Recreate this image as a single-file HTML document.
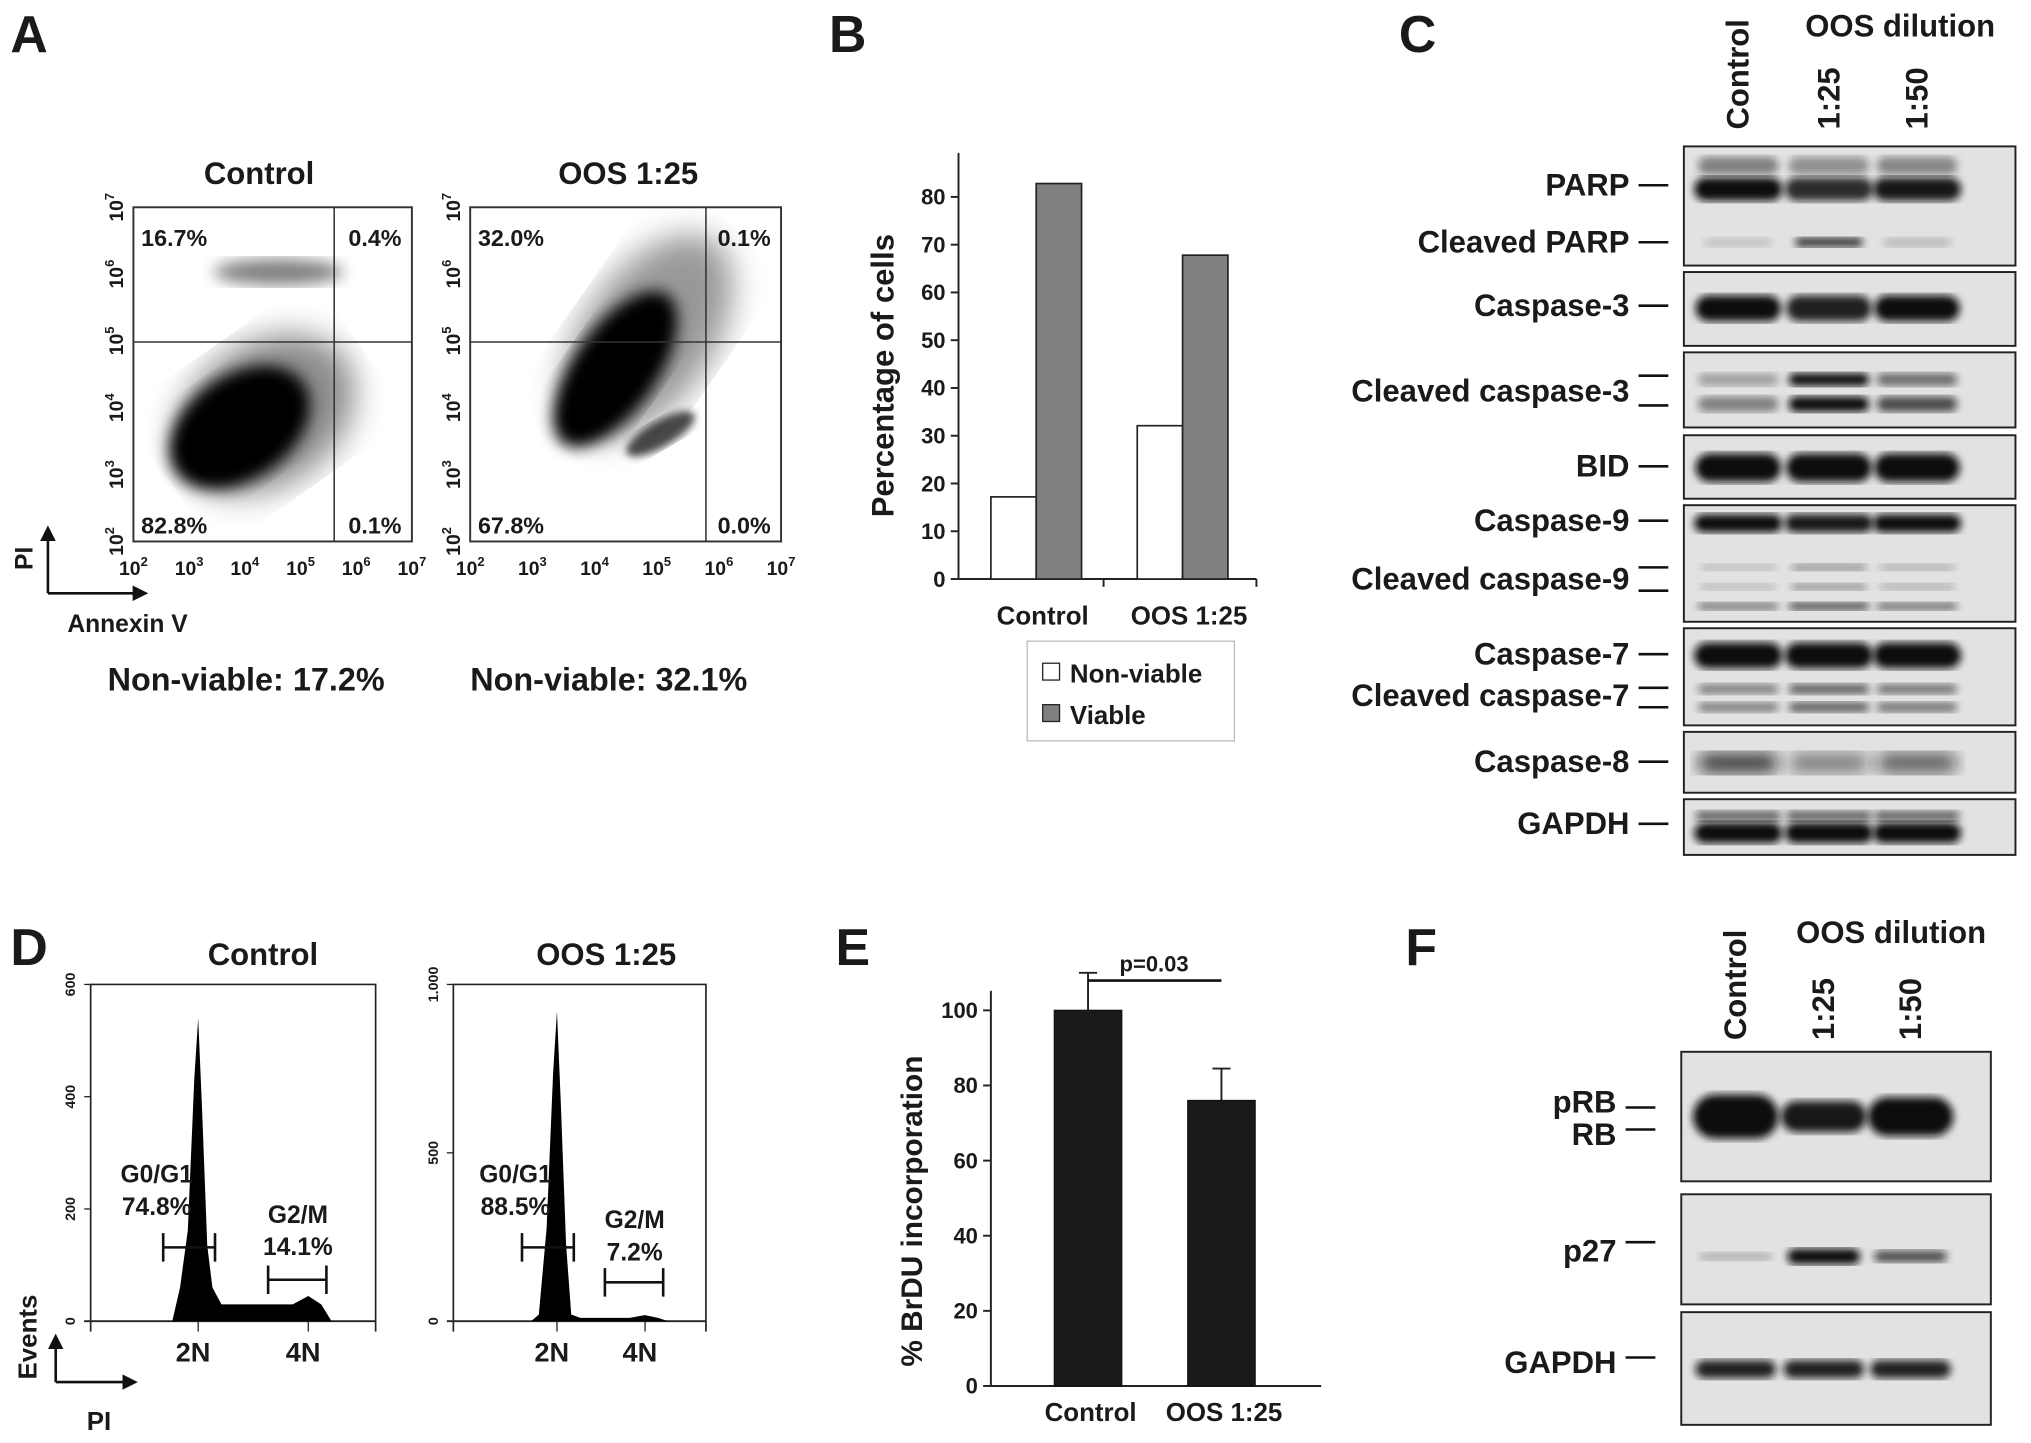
<!DOCTYPE html>
<html><head><meta charset="utf-8"><style>
html,body{margin:0;padding:0;background:#fff;}
svg{display:block;font-family:"Liberation Sans",Arial,sans-serif;}
text{font-weight:bold;fill:#1a1a1a;}
</style></head><body>
<svg id="fig" width="2031" height="1443" viewBox="0 0 1568 1114" xmlns="http://www.w3.org/2000/svg">
<defs>
<filter id="blur3"><feGaussianBlur stdDeviation="3"/></filter>
<filter id="blur6"><feGaussianBlur stdDeviation="6"/></filter>
<filter id="blur12"><feGaussianBlur stdDeviation="12"/></filter>
<marker id="arr" viewBox="0 0 10 10" refX="8" refY="5" markerWidth="6" markerHeight="6" orient="auto"><path d="M0,0L10,5L0,10z" fill="#111"/></marker>
</defs>

<text x="8" y="40" font-size="40">A</text>
<text x="640" y="40" font-size="40">B</text>
<text x="1080" y="40" font-size="40">C</text>
<text x="8" y="745" font-size="40">D</text>
<text x="645" y="745" font-size="40">E</text>
<text x="1085" y="745" font-size="40">F</text>

<g id="panelA"></g>
<g id="panelB"></g>
<g id="panelC"></g>
<g id="panelD"></g>
<g id="panelE"></g>
<g id="panelF"></g>
</svg>
<script>
const bCategories = ["Control", "OOS 1:25"];
const bNonViable = [17.2, 32.1];
const bViable = [82.8, 67.8];
const bTicks = [0,10,20,30,40,50,60,70,80];
const eCategories = ["Control", "OOS  1:25"];
const eValues = [100, 76];
const eErrors = [10, 8.5];
const eTicks = [0,20,40,60,80,100];
const aTitles = ["Control", "OOS 1:25"];
const aQuad = [["16.7%","0.4%","82.8%","0.1%"],["32.0%","0.1%","67.8%","0.0%"]];
const aNonViable = ["Non-viable: 17.2%","Non-viable: 32.1%"];
const aExps = ["2","3","4","5","6","7"];
const dTitles = ["Control","OOS 1:25"];
const dG1 = ["74.8%","88.5%"];
const dG2 = ["14.1%","7.2%"];
const dYTicks = [["0","200","400","600"],["0","500","1.000"]];
const dYMax = [600, 1000];
const dPeak = [540, 920];
const dPlateau = [30, 10];
const dG2Peak = [45, 18];
const cLanes = ["Control","1:25","1:50"];

const NS="http://www.w3.org/2000/svg";
function el(tag, attrs, parent, txt){
  const e=document.createElementNS(NS,tag);
  for(const k in attrs) e.setAttribute(k,attrs[k]);
  if(txt!==undefined) e.textContent=txt;
  parent.appendChild(e); return e;
}

// ===== Panel A =====
(function(){
  const g=document.getElementById('panelA');
  const boxes=[{x0:103,x1:318,vx:258,tx:200},{x0:363,x1:603,vx:545,tx:485}];
  const y0=160,y1=418,hy=264;
  boxes.forEach((b,i)=>{
    const t=el('text',{x:b.tx,y:142,'font-size':24,'text-anchor':'middle'},g,aTitles[i]);
    
    
    const cg=el('g',{},g);
    
    
    if(i===0){
      el('ellipse',{cx:185,cy:330,rx:60,ry:40,transform:'rotate(-35 185 330)',fill:'#000',filter:'url(#blur6)'},cg);
      el('ellipse',{cx:205,cy:320,rx:75,ry:55,transform:'rotate(-35 205 320)',fill:'#000',opacity:0.45,filter:'url(#blur12)'},cg);
      el('ellipse',{cx:215,cy:210,rx:50,ry:10,fill:'#000',opacity:0.5,filter:'url(#blur6)'},cg);
    } else {
      el('ellipse',{cx:475,cy:285,rx:70,ry:32,transform:'rotate(-55 475 285)',fill:'#000',filter:'url(#blur6)'},cg);
      el('ellipse',{cx:500,cy:260,rx:90,ry:50,transform:'rotate(-55 500 260)',fill:'#000',opacity:0.4,filter:'url(#blur12)'},cg);
      el('ellipse',{cx:510,cy:335,rx:30,ry:10,transform:'rotate(-30 510 335)',fill:'#000',opacity:0.7,filter:'url(#blur3)'},cg);
    }
    const r=el('rect',{x:b.x0,y:y0,width:b.x1-b.x0,height:y1-y0,fill:'none',stroke:'#333','stroke-width':1.5},g);
    
    
    el('line',{x1:b.vx,y1:y0,x2:b.vx,y2:y1,stroke:'#333','stroke-width':1.2},g);
    el('line',{x1:b.x0,y1:hy,x2:b.x1,y2:hy,stroke:'#333','stroke-width':1.2},g);
    const q=aQuad[i];
    [[b.x0+6,190,'start',q[0]],[b.x1-8,190,'end',q[1]],[b.x0+6,412,'start',q[2]],[b.x1-8,412,'end',q[3]]].forEach((p,k)=>{
      const qt=el('text',{x:p[0],y:p[1],'font-size':18,'text-anchor':p[2]},g,p[3]);
      
      
    });
    aExps.forEach((e,k)=>{
      const x=b.x0+(b.x1-b.x0)*k/5;
      const tx=el('text',{x:x,y:444,'font-size':15,'text-anchor':'middle','font-weight':'normal'},g);
      
      
      tx.innerHTML='10<tspan dy="-7" font-size="10">'+e+'</tspan>';
      const y=y1-(y1-y0)*k/5;
      const ty=el('text',{transform:`translate(${b.x0-8},${y}) rotate(-90)`,'font-size':15,'text-anchor':'middle','font-weight':'normal'},g);
      
      
      ty.innerHTML='10<tspan dy="-7" font-size="10">'+e+'</tspan>';
    });
    const nv=el('text',{x:[190,470][i],y:533,'font-size':25,'text-anchor':'middle'},g,aNonViable[i]);
    
    
  });
  el('polyline',{points:'37,458 37,408',stroke:'#111','stroke-width':2,fill:'none','marker-end':'url(#arr)'},g);
  el('polyline',{points:'37,458 112,458',stroke:'#111','stroke-width':2,fill:'none','marker-end':'url(#arr)'},g);
  const pi=el('text',{transform:'translate(25,440) rotate(-90)','font-size':19},g,'PI');
  
  
  const an=el('text',{x:52,y:488,'font-size':19},g,'Annexin  V');
  
  
})();

// ===== Panel B =====
(function(){
  const g=document.getElementById('panelB');
  const ax=740, ybase=447, yTop=118, per=(447-152)/80;
  const Y=v=>ybase-v*per;
  const catX=[765,878], bw=35;
  el('line',{x1:ax,y1:yTop,x2:ax,y2:ybase,stroke:'#222','stroke-width':1.5},g);
  el('line',{x1:ax,y1:ybase,x2:970,y2:ybase,stroke:'#222','stroke-width':1.5},g);
  bTicks.forEach(t=>{
    el('line',{x1:ax-6,y1:Y(t),x2:ax,y2:Y(t),stroke:'#222','stroke-width':1.5},g);
    const tt=el('text',{x:ax-10,y:Y(t)+6,'font-size':17,'text-anchor':'end'},g,t);
    
    
  });
  [852,970].forEach(x=>el('line',{x1:x,y1:ybase,x2:x,y2:ybase+6,stroke:'#222','stroke-width':1.5},g));
  bCategories.forEach((c,i)=>{
    const r1=el('rect',{x:catX[i],y:Y(bNonViable[i]),width:bw,height:bNonViable[i]*per,fill:'#fff',stroke:'#222','stroke-width':1.3},g);
    
    
    const r2=el('rect',{x:catX[i]+bw,y:Y(bViable[i]),width:bw,height:bViable[i]*per,fill:'#808080',stroke:'#222','stroke-width':1.3},g);
    
    
    const ct=el('text',{x:catX[i]+bw+5,y:482,'font-size':20,'text-anchor':'middle'},g,c);
    
    
  });
  const yt=el('text',{transform:'translate(690,290) rotate(-90)','font-size':24,'text-anchor':'middle'},g,'Percentage of cells');
  
  
  const lg=el('g',{},g);
  
  
  el('rect',{x:793,y:495,width:160,height:77,fill:'#fff',stroke:'#bbb','stroke-width':1},lg);
  el('rect',{x:805,y:512,width:13,height:13,fill:'#fff',stroke:'#222'},lg);
  el('rect',{x:805,y:544,width:13,height:13,fill:'#808080',stroke:'#222'},lg);
  const l1=el('text',{x:826,y:527,'font-size':20},lg,'Non-viable');
  
  
  const l2=el('text',{x:826,y:559,'font-size':20},lg,'Viable');
  
  
})();

function blotBox(g,x0,x1,y0,y1,name){
  const r=el('rect',{x:x0,y:y0,width:x1-x0,height:y1-y0,fill:'#e2e2e2',stroke:'#222','stroke-width':1.5},g);
  
  
}
function band(g,cx,cy,w,h,op,filt){
  el('rect',{x:cx-w/2,y:cy-h/2,width:w,height:h,rx:h/2,fill:'#111',opacity:op,filter:filt||'url(#blur3)'},g);
}
function label(g,xr,y,txt,dashes,name){
  const t=el('text',{x:xr,y:y+8,'font-size':24,'text-anchor':'end'},g,txt);
  
  
  (dashes||[y]).forEach(dy=>el('line',{x1:xr+7,y1:dy,x2:xr+30,y2:dy,stroke:'#111','stroke-width':2},g));
}

// ===== Panel C =====
(function(){
  const g=document.getElementById('panelC');
  const lx=[1342,1412,1480];
  const ct=el('text',{x:1467,y:28,'font-size':24,'text-anchor':'middle'},g,'OOS dilution');
  
  
  cLanes.forEach((l,i)=>{
    const t=el('text',{transform:`translate(${lx[i]+8},100) rotate(-90)`,'font-size':24},g,l);
    
    
  });
  const X0=1300,X1=1556,W=62;
  blotBox(g,X0,X1,113,205,'blot-parp');
  [0.9,0.75,0.85].forEach((o,i)=>{band(g,lx[i],128,W,14,0.5*o);band(g,lx[i],146,W+6,18,o+0.1);});
  [0.15,0.85,0.2].forEach((o,i)=>band(g,lx[i],187,W-10,7,o));
  blotBox(g,X0,X1,210,267,'blot-caspase3');
  [1,0.9,1].forEach((o,i)=>band(g,lx[i],238,W+4,20,o));
  blotBox(g,X0,X1,272,330,'blot-cleaved-caspase3');
  [0.3,1,0.55].forEach((o,i)=>{band(g,lx[i],293,W,10,o);band(g,lx[i],312,W,12,o+0.15);});
  blotBox(g,X0,X1,336,385,'blot-bid');
  [1,1,1].forEach((o,i)=>band(g,lx[i],361,W+4,22,o));
  blotBox(g,X0,X1,390,480,'blot-caspase9');
  [1,0.95,1].forEach((o,i)=>band(g,lx[i],404,W+6,14,o));
  [0.2,0.4,0.25].forEach((o,i)=>{band(g,lx[i],438,W-4,5,o);band(g,lx[i],453,W-4,5,o);band(g,lx[i],468,W,6,o+0.3);});
  blotBox(g,X0,X1,485,560,'blot-caspase7');
  [1,1,1].forEach((o,i)=>band(g,lx[i],506,W+6,20,o));
  [0.45,0.6,0.5].forEach((o,i)=>{band(g,lx[i],532,W,8,o);band(g,lx[i],546,W,8,o);});
  blotBox(g,X0,X1,565,612,'blot-caspase8');
  [0.75,0.45,0.6].forEach((o,i)=>band(g,lx[i],589,W,16,o,'url(#blur6)'));
  blotBox(g,X0,X1,617,660,'blot-gapdh');
  [1,1,1].forEach((o,i)=>{band(g,lx[i],630,W+4,8,0.6);band(g,lx[i],643,W+6,16,o);});
  const R=1258;
  label(g,R,143,'PARP',null,'label-parp');
  label(g,R,187,'Cleaved PARP',null,'label-cleaved-parp');
  label(g,R,236,'Caspase-3',null,'label-caspase3');
  label(g,R,302,'Cleaved caspase-3',[290,313],'label-cleaved-caspase3');
  label(g,R,360,'BID',null,'label-bid');
  label(g,R,402,'Caspase-9',null,'label-caspase9');
  label(g,R,447,'Cleaved caspase-9',[438,456],'label-cleaved-caspase9');
  label(g,R,505,'Caspase-7',null,'label-caspase7');
  label(g,R,537,'Cleaved caspase-7',[531,546],'label-cleaved-caspase7');
  label(g,R,588,'Caspase-8',null,'label-caspase8');
  label(g,R,636,'GAPDH',null,'label-gapdh');
})();

// ===== Panel D =====
(function(){
  const g=document.getElementById('panelD');
  const plots=[{x0:70,x1:290,c2:153,c4:238,tx:203},{x0:350,x1:545,c2:430,c4:498,tx:468}];
  const y0=760,y1=1020;
  plots.forEach((p,i)=>{
    const Y=v=>y1-(v/dYMax[i])*(y1-y0);
    const t=el('text',{x:p.tx,y:745,'font-size':24,'text-anchor':'middle'},g,dTitles[i]);
    
    
    el('polyline',{points:`${p.x0},${y1+8} ${p.x0},${y0} ${p.x1},${y0} ${p.x1},${y1+8}`,fill:'none',stroke:'#222','stroke-width':1.3},g);
    el('line',{x1:p.x0-5,y1:y1,x2:p.x1,y2:y1,stroke:'#222','stroke-width':1.5},g);
    const n=dYTicks[i].length;
    dYTicks[i].forEach((lbl,k)=>{
      const y=y1-(y1-y0)*k/(n-1);
      el('line',{x1:p.x0-5,y1:y,x2:p.x0,y2:y,stroke:'#222'},g);
      const tt=el('text',{transform:`translate(${p.x0-12},${y}) rotate(-90)`,'font-size':11,'text-anchor':'middle','font-weight':'normal'},g,lbl);
      
      
    });
    const c=p.c2, c4=p.c4;
    const path=`M${c-20},${y1} L${c-14},${Y(dPlateau[i]*2)} L${c-8},${Y(dPeak[i]*0.3)} L${c-3},${Y(dPeak[i]*0.8)} L${c},${Y(dPeak[i])} L${c+3},${Y(dPeak[i]*0.7)} L${c+7},${Y(dPeak[i]*0.25)} L${c+11},${Y(dPlateau[i]*2)} L${c+18},${Y(dPlateau[i])} L${c4-12},${Y(dPlateau[i])} L${c4},${Y(dG2Peak[i])} L${c4+10},${Y(dPlateau[i])} L${c4+18},${y1} Z`;
    const h=el('path',{d:path,fill:'#000'},g);
    
    
    [[c,'2N'],[c4,'4N']].forEach(q=>{
      el('line',{x1:q[0],y1:y1,x2:q[0],y2:y1+8,stroke:'#222'},g);
      const tx=el('text',{x:q[0]-4,y:1051,'font-size':21,'text-anchor':'middle'},g,q[1]);
      
      
    });
    const gy=963, g2y=i===0?988:990;
    el('path',{d:`M${c-27},${gy-11}v22M${c-27},${gy}H${c+13}M${c+13},${gy-11}v22`,stroke:'#111','stroke-width':2,fill:'none'},g);
    el('path',{d:`M${c4-31},${g2y-11}v22M${c4-31},${g2y}H${c4+14}M${c4+14},${g2y-11}v22`,stroke:'#111','stroke-width':2,fill:'none'},g);
    const a=el('text',{x:c-32,y:913,'font-size':19,'text-anchor':'middle'},g,'G0/G1');
    
    
    const b=el('text',{x:c-32,y:938,'font-size':19,'text-anchor':'middle'},g,dG1[i]);
    
    
    const cc=el('text',{x:c4-8,y:i===0?944:948,'font-size':19,'text-anchor':'middle'},g,'G2/M');
    
    
    const d=el('text',{x:c4-8,y:i===0?969:973,'font-size':19,'text-anchor':'middle'},g,dG2[i]);
    
    
  });
  el('polyline',{points:'43,1067 43,1032',stroke:'#111','stroke-width':2,fill:'none','marker-end':'url(#arr)'},g);
  el('polyline',{points:'43,1067 104,1067',stroke:'#111','stroke-width':2,fill:'none','marker-end':'url(#arr)'},g);
  const ev=el('text',{transform:'translate(28,1065) rotate(-90)','font-size':20},g,'Events');
  
  
  const pi=el('text',{x:67,y:1104,'font-size':20},g,'PI');
  
  
})();

// ===== Panel E =====
(function(){
  const g=document.getElementById('panelE');
  const ax=765, yb=1070, per=(1070-780)/100;
  const Y=v=>yb-v*per;
  const cx=[840,943], bw=52;
  el('line',{x1:ax,y1:765,x2:ax,y2:yb,stroke:'#222','stroke-width':1.5},g);
  el('line',{x1:ax,y1:yb,x2:1020,y2:yb,stroke:'#222','stroke-width':1.5},g);
  eTicks.forEach(t=>{
    el('line',{x1:ax-6,y1:Y(t),x2:ax,y2:Y(t),stroke:'#222','stroke-width':1.5},g);
    const tt=el('text',{x:ax-10,y:Y(t)+6,'font-size':17,'text-anchor':'end'},g,t);
    
    
  });
  eCategories.forEach((c,i)=>{
    el('line',{x1:cx[i],y1:Y(eValues[i]),x2:cx[i],y2:Y(eValues[i]+eErrors[i]),stroke:'#222','stroke-width':1.5},g);
    el('line',{x1:cx[i]-7,y1:Y(eValues[i]+eErrors[i]),x2:cx[i]+7,y2:Y(eValues[i]+eErrors[i]),stroke:'#222','stroke-width':1.5},g);
    const r=el('rect',{x:cx[i]-bw/2,y:Y(eValues[i]),width:bw,height:eValues[i]*per,fill:'#1a1a1a',stroke:'#111'},g);
    
    
    const t=el('text',{x:cx[i]+2,y:1097,'font-size':20,'text-anchor':'middle'},g,c);
    
    
  });
  el('line',{x1:840,y1:757,x2:943,y2:757,stroke:'#111','stroke-width':2},g);
  const p=el('text',{x:891,y:750,'font-size':17,'text-anchor':'middle'},g,'p=0.03');
  
  
  const yt=el('text',{transform:'translate(712,935) rotate(-90)','font-size':23,'text-anchor':'middle'},g,'% BrDU incorporation');
  
  
})();

// ===== Panel F =====
(function(){
  const g=document.getElementById('panelF');
  const lx=[1340,1408,1475];
  const ct=el('text',{x:1460,y:728,'font-size':24,'text-anchor':'middle'},g,'OOS dilution');
  
  
  cLanes.forEach((l,i)=>{
    const t=el('text',{transform:`translate(${lx[i]+8},803) rotate(-90)`,'font-size':24},g,l);
    
    
  });
  const X0=1298,X1=1537,W=62;
  blotBox(g,X0,X1,812,912,'blot-prb');
  [1,0.95,1].forEach((o,i)=>band(g,lx[i],862,W+4,[34,24,30][i],o));
  blotBox(g,X0,X1,922,1007,'blot-p27');
  [0.25,1,0.7].forEach((o,i)=>band(g,lx[i],970,W-6,[6,12,9][i],o));
  blotBox(g,X0,X1,1013,1100,'blot-gapdh-f');
  [0.9,0.9,0.9].forEach((o,i)=>band(g,lx[i],1057,W,14,o));
  const R=1248;
  label(g,R,851,'pRB',[855],'label-prb');
  label(g,R,876,'RB',[872],'label-rb');
  label(g,R,966,'p27',[959],'label-p27');
  label(g,R,1052,'GAPDH',[1048],'label-gapdh-f');
})();
</script>
</body></html>
